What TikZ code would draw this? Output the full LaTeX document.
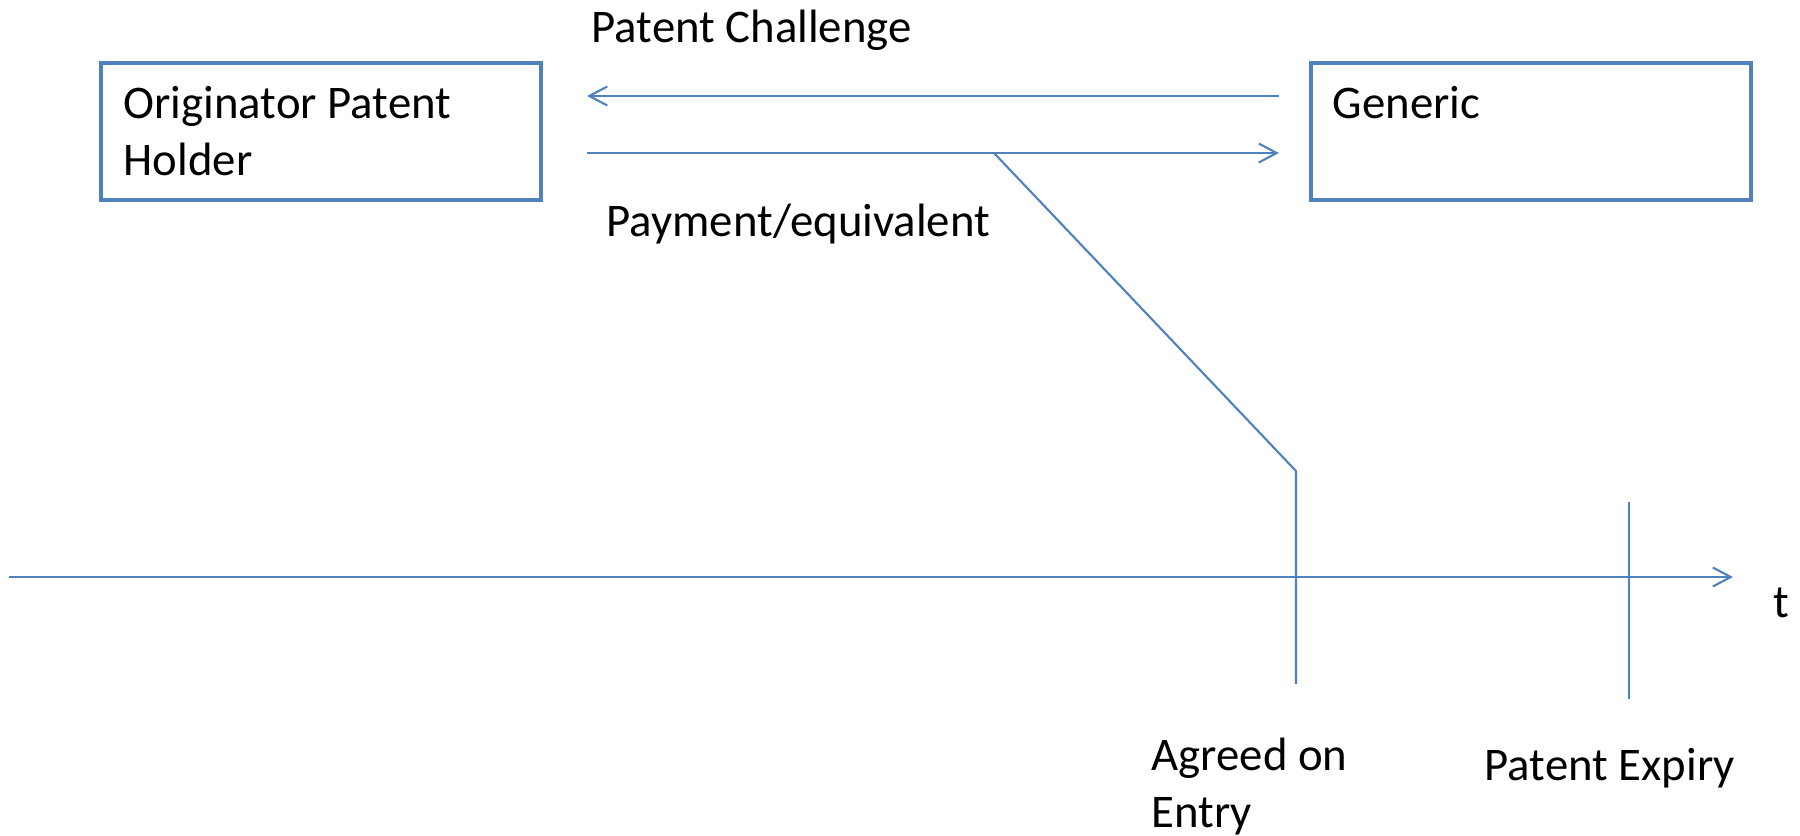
\documentclass[tikz,border=0pt]{standalone}
\usepackage{fontspec}
\setmainfont{Carlito}
\usetikzlibrary{arrows.meta}
\definecolor{lineblue}{HTML}{4F81BD}
\tikzset{
  box/.style={draw=lineblue, line width=1.1pt, minimum width=4.4cm, minimum height=1.37cm, inner sep=0pt},
  lbl/.style={inner sep=0pt, align=left, font=\fontsize{13.3}{16.2}\selectfont},
  conn/.style={draw=lineblue, line width=0.6pt, -{Straight Barb[length=5.1pt,width=5.4pt]}},
  rule/.style={draw=lineblue, line width=0.6pt},
}
\begin{document}
\begin{tikzpicture}[x=0.01cm,y=-0.01cm]
\useasboundingbox (0,0) rectangle (1800,835);

% Draw the boxes
  \node[box] (orig) at (321,131.5) {};
  \node[box] (gen) at (1531,131.5) {};
  \node[lbl,anchor=base west] (origtxt) at (123,175) {Originator Patent\\Holder};
  \node[lbl,anchor=base west] (gentxt) at (1332,118) {Generic};

% Draw the arrows between the boxes
  \draw[conn] ([xshift=-0.3cm,yshift=0.355cm]gen.west) -- ([xshift=0.44cm,yshift=0.355cm]orig.east);
  \draw[conn] ([xshift=0.44cm,yshift=-0.215cm]orig.east) -- ([xshift=-0.3cm,yshift=-0.215cm]gen.west);
  \node[lbl,anchor=base west] (chal) at (591,42) {Patent Challenge};
  \node[lbl,anchor=base west] (pay) at (606,236) {Payment/equivalent};

% settlement line down to the entry date
  \coordinate (split) at (994,153);
  \coordinate (bend) at (1296,471);
  \coordinate (entrylow) at (1296,684);
  \draw[rule] (split) -- (bend) -- (entrylow);

% time axis
  \coordinate (tstart) at (9,577);
  \coordinate (tend) at (1733,577);
  \draw[conn] (tstart) -- (tend);
  \node[lbl,anchor=base west] (tlabel) at (1773,617) {t};

%expiry tick
  \coordinate (exptop) at (1629,502);
  \coordinate (expbot) at (1629,699);
  \draw[rule] (exptop) -- (expbot);

  \node[lbl,anchor=base west] (agreed) at (1151,827) {Agreed on\\Entry};
  \node[lbl,anchor=base west] (expiry) at (1484,780) {Patent Expiry};
\end{tikzpicture}
\end{document}
